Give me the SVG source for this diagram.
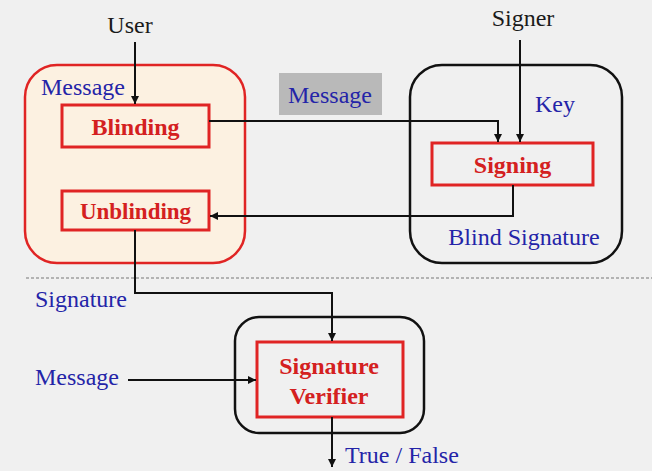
<svg xmlns="http://www.w3.org/2000/svg" width="652" height="471" viewBox="0 0 652 471">
<defs>
<marker id="arr" viewBox="0 0 10 10" refX="10" refY="5" markerWidth="9" markerHeight="8" markerUnits="userSpaceOnUse" orient="auto">
<path d="M0,0 L10,5 L0,10 z" fill="#111"/>
</marker>
</defs>
<style>
.t{font-family:'Liberation Serif','Times New Roman',serif;font-size:24px}
.blk{fill:#1a1a1a}
.blu{fill:#2424a8}
.red{fill:#d42020;font-weight:bold}
.rbox{fill:none;stroke:#e02424;stroke-width:3}
.conn path{fill:none;stroke:#111;stroke-width:2;marker-end:url(#arr)}
</style>
<rect x="0" y="0" width="652" height="471" fill="#f0f0f0"/>
<line x1="26" y1="278" x2="652" y2="278" stroke="#777" stroke-width="1.2" stroke-dasharray="3,2"/>

<g id="user-group">
<rect x="25" y="65" width="220" height="198" rx="32" fill="#fcf1e1" stroke="#e02424" stroke-width="2.5"/>
<text class="t blu" x="41" y="95">Message</text>
</g>
<g id="user"><text class="t blk" x="130" y="33" text-anchor="middle">User</text></g>
<g id="blinding">
<rect class="rbox" x="62" y="105" width="147" height="42"/>
<text class="t red" x="135.5" y="135" text-anchor="middle">Blinding</text>
</g>
<g id="unblinding">
<rect class="rbox" x="62" y="191" width="147" height="39"/>
<text class="t red" x="135.5" y="219" text-anchor="middle" style="font-size:23px">Unblinding</text>
</g>
<g id="message-label">
<rect x="279" y="73" width="103" height="42" fill="#b9b9b9"/>
<text class="t blu" x="330" y="103" text-anchor="middle">Message</text>
</g>
<g id="signer-group">
<rect x="410" y="65" width="212" height="198" rx="32" fill="none" stroke="#111" stroke-width="2.5"/>
<text class="t blu" x="555" y="112" text-anchor="middle">Key</text>
<text class="t blu" x="524" y="245" text-anchor="middle">Blind Signature</text>
</g>
<g id="signer"><text class="t blk" x="523" y="26" text-anchor="middle">Signer</text></g>
<g id="signing">
<rect class="rbox" x="432" y="143" width="161" height="42"/>
<text class="t red" x="512.5" y="173" text-anchor="middle">Signing</text>
</g>
<g id="signature-label"><text class="t blu" x="35" y="307">Signature</text></g>
<g id="message-in"><text class="t blu" x="35" y="385">Message</text></g>
<g id="verifier-group">
<rect x="235" y="317" width="189" height="116" rx="24" fill="none" stroke="#111" stroke-width="2.5"/>
</g>
<g id="verifier">
<rect class="rbox" x="257" y="342" width="146" height="75"/>
<text class="t red" x="329" y="374" text-anchor="middle">Signature</text>
<text class="t red" x="329" y="404" text-anchor="middle">Verifier</text>
</g>
<g id="result"><text class="t blu" x="345" y="463">True / False</text></g>

<g id="connectors" class="conn">
<path d="M135,42 V104"/>
<path d="M209,121 H498 V142"/>
<path d="M520,40 V142"/>
<path d="M513,185 V216 H210"/>
<path d="M135,230 V293 H332 V341"/>
<path d="M128,380 H256"/>
<path d="M332,417 V467"/>
</g>
</svg>
